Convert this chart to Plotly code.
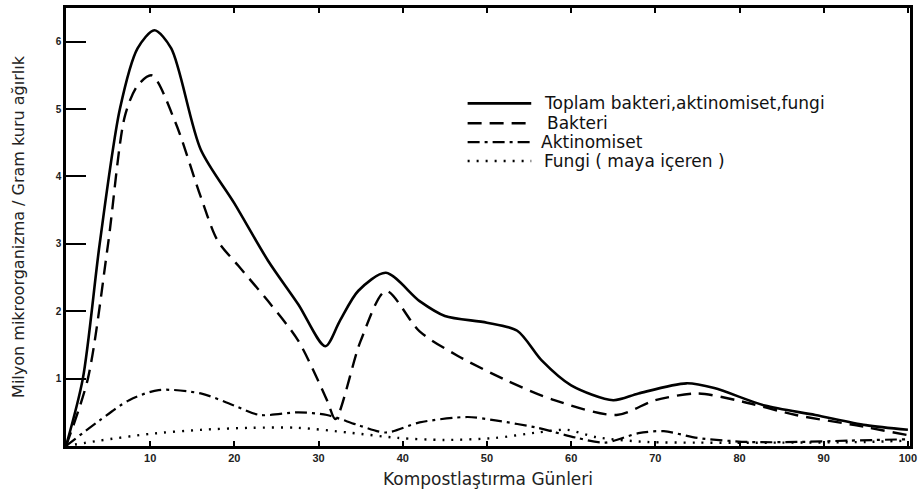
import plotly.graph_objects as go

# Days / values
toplam_x = [0, 2, 4, 6.4, 8.5, 10.5, 12.5, 16, 20, 24, 27.6, 30.8, 32.5, 34.7, 38, 42, 45, 50, 53.6, 56.5, 60, 65, 68, 73.7, 77, 83, 89, 95, 100]
toplam_y = [0, 1.0, 3.0, 5.0, 5.9, 6.17, 5.9, 4.4, 3.6, 2.75, 2.1, 1.48, 1.85, 2.3, 2.57, 2.15, 1.93, 1.83, 1.71, 1.27, 0.9, 0.68, 0.78, 0.93, 0.86, 0.6, 0.46, 0.31, 0.24]

bakteri_x = [0, 2.6, 5, 7, 8.5, 10.2, 13, 16, 18, 20.5, 24, 27.6, 31, 32, 35, 38, 42, 46.5, 52.4, 58, 65.4, 70, 75, 79.6, 86.7, 93.7, 100]
bakteri_y = [0, 1.0, 3.0, 4.9, 5.35, 5.5, 4.8, 3.7, 3.05, 2.67, 2.15, 1.56, 0.68, 0.4, 1.56, 2.3, 1.7, 1.34, 0.97, 0.68, 0.46, 0.68, 0.78, 0.68, 0.46, 0.31, 0.16]

aktino_x = [0, 4, 7.5, 11, 16, 20, 23, 27.6, 31, 34.7, 38, 42, 47.7, 51, 56, 60.7, 64, 68, 71, 75, 81, 87, 93, 100]
aktino_y = [0, 0.38, 0.68, 0.83, 0.78, 0.6, 0.46, 0.5, 0.46, 0.31, 0.2, 0.35, 0.43, 0.38, 0.27, 0.12, 0.05, 0.19, 0.22, 0.12, 0.06, 0.06, 0.08, 0.1]

fungi_x = [0, 4, 10, 16, 22, 27.6, 33.5, 39.4, 45, 51, 56, 59.5, 63, 69, 75, 85, 95, 100]
fungi_y = [0, 0.08, 0.18, 0.24, 0.27, 0.27, 0.2, 0.12, 0.09, 0.12, 0.2, 0.24, 0.13, 0.06, 0.05, 0.05, 0.06, 0.08]

names = ["Toplam bakteri,aktinomiset,fungi", "Bakteri", "Aktinomiset", "Fungi ( maya içeren )"]

x_ticks = [10, 20, 30, 40, 50, 60, 70, 80, 90, 100]
y_ticks = [1, 2, 3, 4, 5, 6]

FONT = "DejaVu Sans, Verdana, sans-serif"
dashes = ["solid", "14px,8px", "12px,5px,3px,5px", "2px,7px"]
widths = [2.6, 2.4, 2.2, 2.4]

fig = go.Figure()
for xs, ys, dash, w, nm in zip([toplam_x, bakteri_x, aktino_x, fungi_x],
                               [toplam_y, bakteri_y, aktino_y, fungi_y],
                               dashes, widths, names):
    fig.add_trace(go.Scatter(
        x=xs, y=ys, mode="lines", name=nm, showlegend=False,
        line=dict(color="black", width=w, dash=dash, shape="spline", smoothing=0.8),
    ))

# Hand-drawn style legend (paper coordinates)
L, R, T, B = 66, 915, 5, 446
def px(xp):
    return (xp - L) / (R - L)
def py(yp):
    return (B - yp) / (B - T)

rows_y = [101, 121, 140, 159]
text_x = [545, 548, 542, 545]
for i, nm in enumerate(names):
    fig.add_shape(type="line", xref="paper", yref="paper",
                  x0=px(470), x1=px(534), y0=py(rows_y[i]), y1=py(rows_y[i]),
                  line=dict(color="black", width=widths[i], dash=dashes[i]))
    fig.add_annotation(xref="paper", yref="paper", x=px(text_x[i]), y=py(rows_y[i]),
                       xanchor="left", yanchor="middle", showarrow=False, text=nm,
                       font=dict(family=FONT, size=17, color="#111"))

fig.update_layout(
    width=922, height=497,
    margin=dict(l=L, r=922 - R, t=T, b=497 - B),
    paper_bgcolor="white", plot_bgcolor="white",
    font=dict(family=FONT, color="#222"),
    showlegend=False,
    xaxis=dict(
        range=[0, 100.25], tickvals=x_ticks, ticktext=[str(v) for v in x_ticks],
        ticks="inside", ticklen=5, tickwidth=2, tickcolor="black",
        showline=True, linewidth=2.5, linecolor="black", mirror="ticks",
        showgrid=False, zeroline=False,
        tickfont=dict(size=11, family="Liberation Sans, Arial", color="#222", weight="bold"),
        title=dict(text="Kompostlaştırma Günleri", font=dict(size=17, color="#222", family=FONT), standoff=11),
    ),
    yaxis=dict(
        range=[0, 6.5], tickvals=y_ticks, ticktext=[str(v) for v in y_ticks],
        ticks="inside", ticklen=20, tickwidth=2, tickcolor="black",
        showline=True, linewidth=2.5, linecolor="black", mirror=True,
        showgrid=False, zeroline=False,
        tickfont=dict(size=10, family="Liberation Sans, Arial", color="#222", weight="bold"),
        title=dict(text="Milyon mikroorganizma / Gram kuru ağırlık", font=dict(size=16, color="#222", family=FONT), standoff=28),
    ),
)

fig.write_html("out.html")
